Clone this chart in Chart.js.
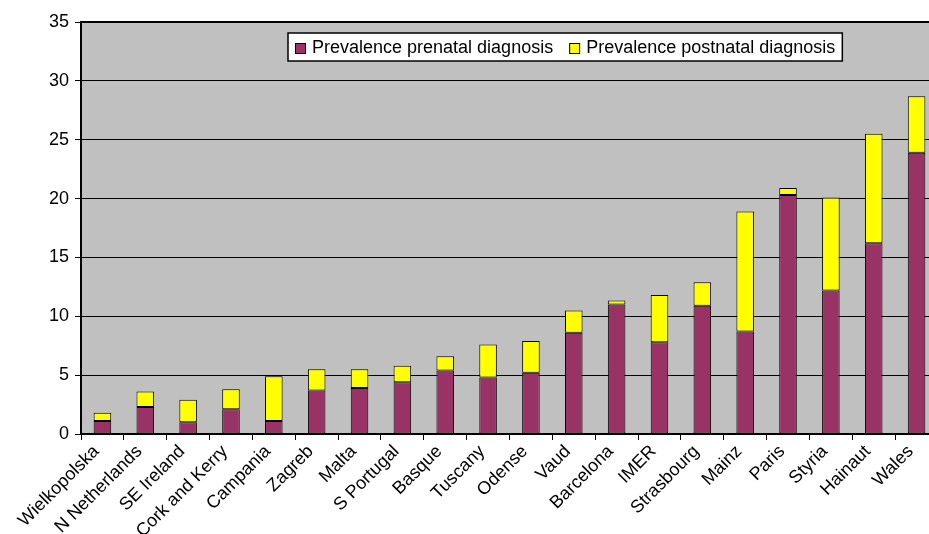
<!DOCTYPE html>
<html>
<head>
<meta charset="utf-8">
<script src="https://cdn.jsdelivr.net/npm/chart.js@4.4.1/dist/chart.umd.min.js"></script>
<style>
  html, body { margin: 0; padding: 0; background: #fff; overflow: hidden; }
  #wrap { width: 940px; height: 534px; }
</style>
</head>
<body>
<div id="wrap"><canvas id="c" width="940" height="534"></canvas></div>
<script>
// Regions, ordered by total prevalence
const categories = ['Wielkopolska', 'N Netherlands', 'SE Ireland', 'Cork and Kerry', 'Campania',
  'Zagreb', 'Malta', 'S Portugal', 'Basque', 'Tuscany', 'Odense', 'Vaud', 'Barcelona', 'IMER',
  'Strasbourg', 'Mainz', 'Paris', 'Styria', 'Hainaut', 'Wales'];

// Prevalence split by timing of diagnosis
const prenatal  = [1.1, 2.3, 1.0, 2.1, 1.1, 3.7, 3.9, 4.4, 5.4, 4.8, 5.2, 8.6, 11.0, 7.8, 10.9, 8.7, 20.3, 12.2, 16.2, 23.9];
const postnatal = [0.7, 1.3, 1.9, 1.7, 3.8, 1.8, 1.6, 1.4, 1.2, 2.8, 2.7, 1.9, 0.35, 4.0, 2.0, 10.2, 0.6, 7.9, 9.3, 4.8];

const seriesNames = ['Prevalence prenatal diagnosis', 'Prevalence postnatal diagnosis'];
const seriesColors = ['#993366', '#FFFF00'];

const yTicks = [0, 5, 10, 15, 20, 25, 30, 35];

const FONT = '"Liberation Sans", Arial, sans-serif';

// Grey plot background and black frame around the plotting area
const plotFrame = {
  id: 'plotFrame',
  beforeDraw(chart) {
    const { ctx, chartArea: a } = chart;
    ctx.save();
    ctx.fillStyle = '#C0C0C0';
    ctx.fillRect(a.left, a.top, a.right - a.left, a.bottom - a.top);
    ctx.restore();
  },
  afterDatasetsDraw(chart) {
    const { ctx, chartArea: a } = chart;
    ctx.save();
    ctx.strokeStyle = '#000';
    ctx.lineWidth = 2;
    ctx.strokeRect(a.left, a.top, a.right - a.left, a.bottom - a.top);
    ctx.restore();
  }
};

// Boxed legend sitting inside the plot area
const boxLegend = {
  id: 'boxLegend',
  afterDraw(chart) {
    const { ctx } = chart;
    ctx.save();
    ctx.font = '18px ' + FONT;
    ctx.textBaseline = 'middle';
    const left = 288, top = 33, h = 28, mid = top + h / 2 + 1;
    let x = left + 7;
    const items = [];
    seriesNames.forEach((name, i) => {
      const w = ctx.measureText(name).width;
      items.push({ mx: x, tx: x + 17, name, color: seriesColors[i] });
      x = x + 17 + w + 16;
    });
    const right = x - 16 + 7;
    ctx.fillStyle = '#fff';
    ctx.fillRect(left, top, right - left, h);
    ctx.strokeStyle = '#000';
    ctx.lineWidth = 1.5;
    ctx.strokeRect(left, top, right - left, h);
    items.forEach(it => {
      ctx.fillStyle = it.color;
      ctx.fillRect(it.mx, mid - 5, 10, 10);
      ctx.strokeStyle = '#000';
      ctx.lineWidth = 1;
      ctx.strokeRect(it.mx + 0.5, mid - 4.5, 10, 10);
      ctx.fillStyle = '#000';
      ctx.fillText(it.name, it.tx, mid);
    });
    ctx.restore();
  }
};

new Chart(document.getElementById('c'), {
  type: 'bar',
  data: {
    labels: categories,
    datasets: [
      { label: seriesNames[0], data: prenatal, backgroundColor: seriesColors[0], borderColor: '#000', borderWidth: 1, borderSkipped: false },
      { label: seriesNames[1], data: postnatal, backgroundColor: seriesColors[1], borderColor: '#000', borderWidth: 1, borderSkipped: false }
    ]
  },
  options: {
    responsive: false,
    animation: false,
    devicePixelRatio: 1,
    layout: { padding: { top: 22, right: 2, left: 0, bottom: 0 } },
    datasets: { bar: { barPercentage: 0.41, categoryPercentage: 1.0 } },
    plugins: { legend: { display: false }, tooltip: { enabled: false } },
    scales: {
      x: {
        stacked: true,
        offset: true,
        grid: { display: true, drawOnChartArea: false, drawTicks: true, tickLength: 6, color: '#000', offset: true, lineWidth: 1 },
        border: { display: true, color: '#000', width: 2 },
        ticks: {
          autoSkip: false, maxRotation: 45, minRotation: 45, padding: 1, labelOffset: -6,
          color: '#000', font: { family: FONT, size: 18 }
        },
        afterFit(scale) { scale.height = 100; }
      },
      y: {
        stacked: true,
        min: 0, max: 35,
        afterBuildTicks(scale) { scale.ticks = yTicks.map(v => ({ value: v })); },
        grid: { color: '#000', lineWidth: 1, tickLength: 6 },
        border: { display: true, color: '#000', width: 2 },
        ticks: { padding: 6, color: '#000', font: { family: FONT, size: 18 } },
        afterFit(scale) { scale.width = 81; }
      }
    }
  },
  plugins: [plotFrame, boxLegend]
});
</script>
</body>
</html>
